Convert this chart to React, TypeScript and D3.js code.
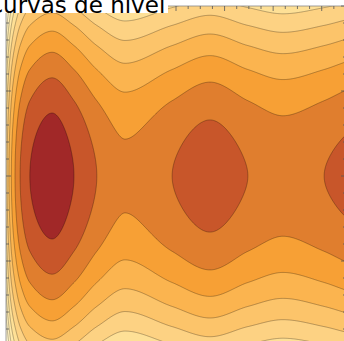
import * as d3 from "d3";
import React, { useMemo } from "react";

const title = "Curvas de nível";

// height of the surface along y = 0, in contour-level units
const profileX = [0.5, 0.52, 0.56, 0.61, 0.685, 0.79, 0.99, 1.45, 1.9, 2.37, 2.95, 3.92, 4.7, 5.48, 6.2, 7.05, 7.5];
const profileLevel = [-5.6, -5, -4, -3, -2, -1, 0, 0.7, 0, -1, -1.76, -1, -0.445, -1, -1.36, -1, -0.7];
// fall-off across y (levels per unit y²)
const yCurvature = 1.274;

const levels = [-9, -8, -7, -6, -5, -4, -3, -2, -1, 0];
const bandColors = [
  "#FFF6CF", "#FFF0BC", "#FFE9A8", "#FEE096", "#FDD283", "#FCC46A",
  "#FBB44F", "#F7A035", "#E07E2E", "#C8562A", "#A12828",
];

const xDomain: [number, number] = [0.5, 7.5];
const yDomain: [number, number] = [-2, 2];

const W = 344;
const H = 341;
const left = 6;
const top = 6;
const size = 340;

// monotone cubic through the profile knots
function monotone(xs: number[], ys: number[]) {
  const n = xs.length;
  const h: number[] = [];
  const s: number[] = [];
  for (let i = 0; i < n - 1; i++) {
    h[i] = xs[i + 1] - xs[i];
    s[i] = (ys[i + 1] - ys[i]) / h[i];
  }
  const m: number[] = new Array(n);
  m[0] = s[0];
  m[n - 1] = s[n - 2];
  for (let i = 1; i < n - 1; i++) {
    if (s[i - 1] * s[i] <= 0) m[i] = 0;
    else {
      const w1 = 2 * h[i] + h[i - 1];
      const w2 = h[i] + 2 * h[i - 1];
      m[i] = (w1 + w2) / (w1 / s[i - 1] + w2 / s[i]);
    }
  }
  return (x: number) => {
    if (x <= xs[0]) return ys[0] + m[0] * (x - xs[0]);
    if (x >= xs[n - 1]) return ys[n - 1] + m[n - 1] * (x - xs[n - 1]);
    const i = Math.min(d3.bisectRight(xs, x) - 1, n - 2);
    const t = (x - xs[i]) / h[i];
    const t2 = t * t;
    const t3 = t2 * t;
    return (
      (2 * t3 - 3 * t2 + 1) * ys[i] +
      (t3 - 2 * t2 + t) * h[i] * m[i] +
      (-2 * t3 + 3 * t2) * ys[i + 1] +
      (t3 - t2) * h[i] * m[i + 1]
    );
  };
}

export default function App() {
  const xScale = d3.scaleLinear(xDomain, [left, left + size]);
  const yScale = d3.scaleLinear(yDomain, [top + size, top]);

  const { bands, pad } = useMemo(() => {
    const g = monotone(profileX, profileLevel);
    const pad = 3;
    const n = size + 2 * pad;
    const values = new Float64Array(n * n);
    for (let j = 0; j < n; j++) {
      const yv = yScale.invert(top - pad + j + 0.5);
      for (let i = 0; i < n; i++) {
        const xv = xScale.invert(left - pad + i + 0.5);
        values[j * n + i] = g(xv) - yCurvature * yv * yv;
      }
    }
    const bands = d3.contours().size([n, n]).thresholds(levels)(Array.from(values));
    return { bands, pad };
  }, []);

  const path = d3.geoPath();
  const xMajor = d3.range(1, 8);
  const xMinor = d3.range(0.5, 7.51, 0.25).filter((v) => Math.abs(v - Math.round(v)) > 1e-6);
  const yMajor = d3.range(-2, 2.01, 1);
  const yMinor = d3.range(-2, 2.01, 0.2).filter((v) => Math.abs(v - Math.round(v)) > 1e-6);

  const tickColor = "#555";
  return (
    <svg width={W} height={H} style={{ position: "absolute", left: 0, top: 0, background: "#fff" }}>
      <defs>
        <clipPath id="plot">
          <rect x={left} y={top} width={size} height={size} />
        </clipPath>
      </defs>
      <g clipPath="url(#plot)">
        <rect x={left} y={top} width={size} height={size} fill={bandColors[0]} />
        <g transform={`translate(${left - pad},${top - pad})`}>
          {bands.map((b, i) => (
            <path key={i} d={path(b as any) || ""} fill={bandColors[i + 1]} stroke="#000" strokeOpacity={0.35} strokeWidth={0.8} />
          ))}
        </g>
      </g>
      <rect x={left} y={top} width={size} height={size} fill="none" stroke="#888" strokeWidth={0.8} />
      <g stroke={tickColor} strokeWidth={0.8}>
        {xMajor.map((v) => (
          <g key={"xM" + v}>
            <line x1={xScale(v)} x2={xScale(v)} y1={top} y2={top + 5} />
            <line x1={xScale(v)} x2={xScale(v)} y1={top + size} y2={top + size - 5} />
          </g>
        ))}
        {xMinor.map((v) => (
          <g key={"xm" + v}>
            <line x1={xScale(v)} x2={xScale(v)} y1={top} y2={top + 3} />
            <line x1={xScale(v)} x2={xScale(v)} y1={top + size} y2={top + size - 3} />
          </g>
        ))}
        {yMajor.map((v) => (
          <g key={"yM" + v}>
            <line y1={yScale(v)} y2={yScale(v)} x1={left} x2={left + 5} />
            <line y1={yScale(v)} y2={yScale(v)} x1={left + size} x2={left + size - 5} />
          </g>
        ))}
        {yMinor.map((v) => (
          <g key={"ym" + v}>
            <line y1={yScale(v)} y2={yScale(v)} x1={left} x2={left + 3} />
            <line y1={yScale(v)} y2={yScale(v)} x1={left + size} x2={left + size - 3} />
          </g>
        ))}
      </g>
      <rect x={0} y={0} width={168} height={13} fill="#fff" />
      <text x={-13} y={13} fontFamily="DejaVu Sans" fontSize={23} fill="#000">
        {title}
      </text>
    </svg>
  );
}
